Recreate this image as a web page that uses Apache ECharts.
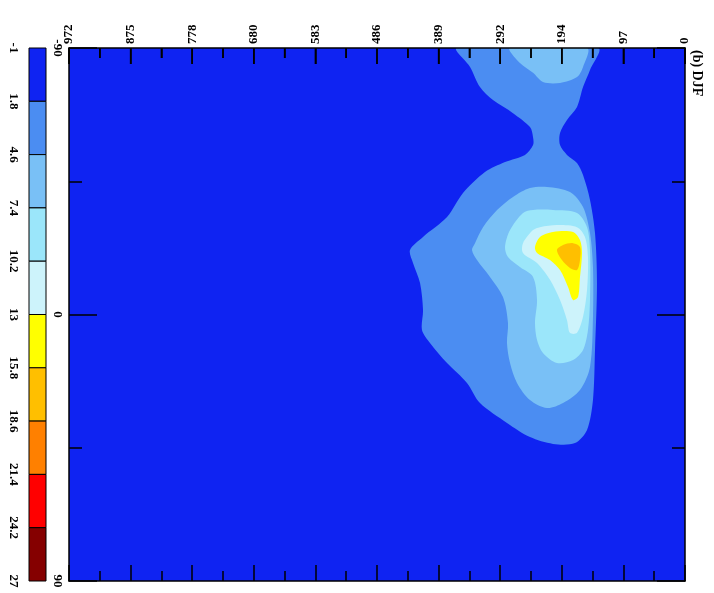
<!DOCTYPE html>
<html><head><meta charset="utf-8">
<script src="https://cdn.jsdelivr.net/npm/echarts@6/dist/echarts.min.js"></script>
<style>html,body{margin:0;padding:0;background:#fff}#c{width:714px;height:593px}</style>
</head><body><div id="c"></div>
<script>
// Height axis tick labels (axis runs 0..972, step 97.2)
const heightTicks = ['0','97','194','292','389','486','583','680','778','875','972'];
const heightStep = 97.2;
// Latitude labels
const latTicks = {'-90':'-90','0':'0','90':'90'};
// Colour bar levels
const levelLabels = ['-1','1.8','4.6','7.4','10.2','13','15.8','18.6','21.4','24.2','27'];
const levelColors = ['#0f23f2','#4b8df2','#79c0f6','#9be6fa','#cdf3fb','#ffff00','#ffbf00','#ff8000','#ff0000','#850000'];

// Background field (lowest level) covers the whole domain: [height, latitude]
const contourL0 = [[0,-90],[972,-90],[972,90],[0,90]];
// Contour polygons: [height, latitude]
const contourL1 = [[359.8,-90],[137.3,-90],[149.9,-82.6],[160.9,-76.8],[170.4,-70.1],[186.2,-65.7],[197.2,-61.3],[197.2,-57.2],[186.2,-53.9],[170.4,-51.2],[160.9,-47.1],[149.9,-38.7],[142.0,-27.5],[138.9,-10.6],[142.0,12.0],[145.2,28.9],[154.6,39.0],[173.6,43.4],[208.3,43.7],[244.6,41.4],[280.9,36.6],[323.5,29.9],[344.0,23.1],[375.5,16.4],[402.4,9.6],[415.0,5.2],[413.4,-1.5],[418.1,-10.6],[429.2,-17.4],[433.9,-21.8],[413.4,-26.2],[375.5,-32.9],[350.3,-41.0],[315.6,-48.1],[284.0,-51.5],[252.5,-53.9],[239.8,-57.2],[239.8,-59.9],[244.6,-63.3],[271.4,-68.0],[303.0,-72.4],[323.5,-76.8],[339.2,-83.6]];
const contourL2a = [[276.1,-90],[260.4,-84.9],[239.8,-81.6],[224.1,-78.5],[197.2,-78.2],[170.4,-80.2],[160.9,-83.6],[154.6,-90]];
const contourL2b = [[271.4,-39.7],[296.6,-35.3],[318.7,-29.5],[331.4,-24.1],[336.1,-21.8],[328.2,-18.4],[307.7,-12.7],[287.2,-5.9],[279.3,2.9],[280.9,9.6],[276.1,16.4],[265.1,23.1],[244.6,28.9],[217.8,31.6],[192.5,29.9],[165.7,25.5],[149.9,17.7],[145.2,0.8],[145.2,-16.0],[149.9,-27.5],[160.9,-36.3],[181.5,-41.4],[217.8,-43.1],[244.6,-42.7]];
const contourL3 = [[255.6,-34.3],[276.1,-28.5],[284.0,-22.8],[279.3,-19.4],[260.4,-16.0],[239.8,-12.7],[233.5,-4.9],[236.7,2.9],[233.5,8.6],[224.1,13.0],[202.0,16.4],[176.7,15.4],[160.9,12.0],[153.1,5.2],[149.9,-4.9],[149.9,-21.8],[154.6,-29.5],[170.4,-34.3],[208.3,-35.3],[239.8,-35.3]];
const contourL4 = [[239.8,-28.5],[255.6,-24.1],[255.6,-20.8],[233.5,-17.4],[213.0,-11.7],[197.2,-4.9],[186.2,1.9],[181.5,6.2],[170.4,6.2],[160.9,0.8],[154.6,-8.3],[153.1,-19.4],[157.8,-26.2],[170.4,-29.5],[202.0,-30.2],[228.8,-29.5]];
const contourL5 = [[228.8,-26.2],[236.7,-22.8],[233.5,-20.8],[213.0,-18.4],[197.2,-15.0],[184.6,-9.3],[176.7,-4.9],[168.8,-5.9],[165.7,-12.7],[162.5,-20.8],[165.7,-25.2],[176.7,-27.9],[208.3,-27.9]];
const contourL6 = [[202.0,-21.8],[194.1,-18.4],[181.5,-15.7],[170.4,-15.0],[165.7,-18.4],[165.7,-22.8],[176.7,-24.1],[192.5,-23.5]];

const contours = [contourL0, contourL1, contourL2a, contourL2b, contourL3, contourL4, contourL5, contourL6];
const contourLevel = [0, 1, 2, 2, 3, 4, 5, 6];

const font = 'Liberation Serif';
function axLine() { return { show: true, onZero: false, lineStyle: { color: '#000', width: 1.5 } }; }
function hTicks() { return { show: true, inside: true, length: 16, lineStyle: { color: '#000', width: 1.5 } }; }
function hMinor() { return { show: true, splitNumber: 2, length: 10, lineStyle: { color: '#000', width: 1.5 } }; }
function vTicks() { return { show: true, inside: true, length: 28, lineStyle: { color: '#000', width: 1.5 } }; }
function vMinor() { return { show: true, splitNumber: 2, length: 13, lineStyle: { color: '#000', width: 1.5 } }; }

const titleGraphic = {
  id: 'title', type: 'text', x: 690, y: 50, rotation: -Math.PI / 2, z: 100,
  style: { text: '(b) DJF', font: 'bold 14px "Liberation Serif"', fill: '#000', textAlign: 'left', textVerticalAlign: 'bottom' }
};

const chart = echarts.init(document.getElementById('c'));
chart.setOption({
  animation: false,
  backgroundColor: '#fff',
  graphic: [titleGraphic],
  grid: [
    { left: 69, top: 48, width: 616, height: 533, show: false, outerBoundsMode: 'none' },
    { left: 29, top: 48, width: 17, height: 533, show: false, outerBoundsMode: 'none' }
  ],
  xAxis: [
    { gridIndex: 0, type: 'value', min: 0, max: 972, interval: heightStep, inverse: true, position: 'top', z: 5,
      axisLine: axLine(), axisTick: hTicks(), minorTick: hMinor(), splitLine: { show: false },
      axisLabel: { rotate: -90, margin: 4, color: '#000', fontFamily: font, fontWeight: 'bold', fontSize: 13,
        formatter: v => heightTicks[Math.round(v / heightStep)] } },
    { gridIndex: 0, type: 'value', min: 0, max: 972, interval: heightStep, inverse: true, position: 'bottom', z: 5,
      axisLine: axLine(), axisTick: hTicks(), minorTick: hMinor(), splitLine: { show: false }, axisLabel: { show: false } },
    { gridIndex: 1, type: 'value', min: 0, max: 1, show: false }
  ],
  yAxis: [
    { gridIndex: 0, type: 'value', min: -90, max: 90, interval: 90, inverse: true, position: 'left', z: 5,
      axisLine: axLine(), axisTick: vTicks(), minorTick: vMinor(), splitLine: { show: false },
      axisLabel: { rotate: -90, margin: 5, color: '#000', fontFamily: font, fontWeight: 'bold', fontSize: 13,
        formatter: v => latTicks[String(Math.round(v))] } },
    { gridIndex: 0, type: 'value', min: -90, max: 90, interval: 90, inverse: true, position: 'right', z: 5,
      axisLine: axLine(), axisTick: vTicks(), minorTick: vMinor(), splitLine: { show: false }, axisLabel: { show: false } },
    { gridIndex: 1, type: 'value', min: 0, max: 10, interval: 1, inverse: true, position: 'left',
      axisLine: { show: false, onZero: false }, axisTick: { show: false }, splitLine: { show: false },
      axisLabel: { rotate: -90, margin: 9, color: '#000', fontFamily: font, fontWeight: 'bold', fontSize: 13,
        formatter: v => levelLabels[Math.round(v)] } }
  ],
  series: [
    { type: 'custom', xAxisIndex: 0, yAxisIndex: 0, clip: true, z: 1,
      data: contours.map((c, i) => [i, c[0][0], c[0][1]]),
      encode: { x: 1, y: 2 },
      renderItem: (params, api) => {
        const i = api.value(0);
        const pts = contours[i].map(p => api.coord(p));
        return { type: 'polygon', shape: { points: pts, smooth: i === 0 ? 0 : 0.3 }, style: { fill: levelColors[contourLevel[i]], stroke: null } };
      } },
    { type: 'custom', xAxisIndex: 2, yAxisIndex: 2,
      data: levelColors.map((c, i) => [0, i]),
      renderItem: (params, api) => {
        const i = api.value(1);
        const a = api.coord([0, i]);
        const b = api.coord([1, i + 1]);
        return { type: 'rect', shape: { x: Math.min(a[0], b[0]), y: Math.min(a[1], b[1]), width: Math.abs(b[0] - a[0]), height: Math.abs(b[1] - a[1]) },
          style: { fill: levelColors[i], stroke: '#000', lineWidth: 1 } };
      } }
  ]
});

// Top-edge tick marks, placed through the axis scales (major at each label, minor halfway)
const tickGraphics = [];
heightTicks.forEach((t, k) => {
  const vals = [[k * heightStep, 16]];
  if (k < heightTicks.length - 1) vals.push([k * heightStep + heightStep / 2, 10]);
  vals.forEach(([v, len]) => {
    const pTop = chart.convertToPixel({ xAxisIndex: 0, yAxisIndex: 0 }, [v, -90]);
    const pBot = chart.convertToPixel({ xAxisIndex: 0, yAxisIndex: 0 }, [v, 90]);
    if (!pTop || !pBot) return;
    const y0 = Math.min(pTop[1], pBot[1]);
    tickGraphics.push({ type: 'line', z: 100, silent: true,
      shape: { x1: pTop[0], y1: y0, x2: pTop[0], y2: y0 + len },
      style: { stroke: '#000', lineWidth: 1.5 } });
  });
});
chart.setOption({ graphic: [titleGraphic].concat(tickGraphics) });
</script></body></html>
